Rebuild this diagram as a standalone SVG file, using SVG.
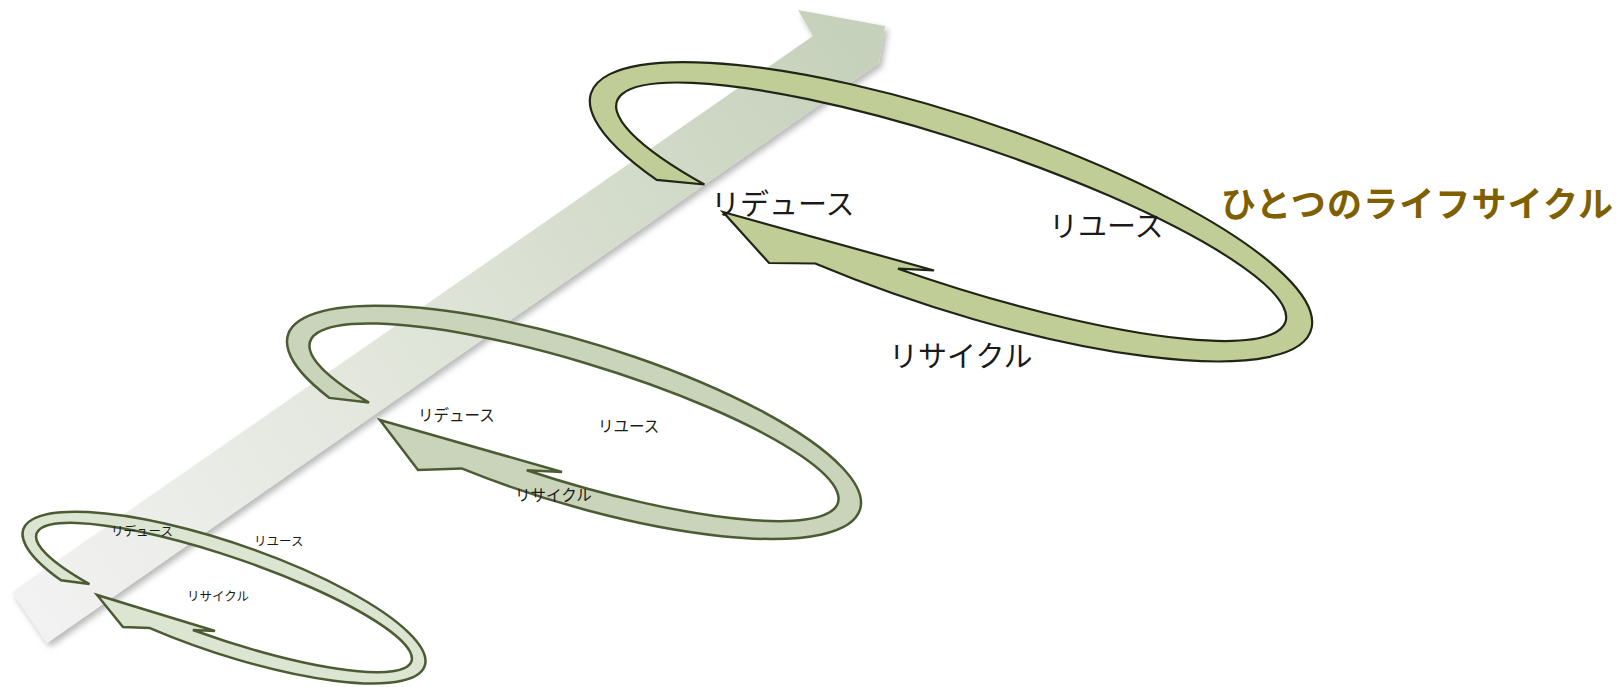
<svg xmlns="http://www.w3.org/2000/svg" width="1619" height="687" viewBox="0 0 1619 687">
  <defs>
    <linearGradient id="bandGrad" gradientUnits="userSpaceOnUse" x1="30" y1="617" x2="850" y2="40">
      <stop offset="0" stop-color="#f2f2f2"/>
      <stop offset="0.5" stop-color="#dfe4d8"/>
      <stop offset="1" stop-color="#c6d1bb"/>
    </linearGradient>
    <filter id="shadow" x="-10%" y="-10%" width="120%" height="120%">
      <feDropShadow dx="3" dy="4" stdDeviation="3" flood-color="#000" flood-opacity="0.28"/>
    </filter>
  </defs>
  <style>
    .ring { stroke-linejoin: miter; stroke-miterlimit: 4; }
    .big { fill: #c0cd97; stroke: #1f2615; stroke-width: 2.2; }
    .mid { fill: #c9d4ba; stroke: #4b5b33; stroke-width: 2.5; }
    .sml { fill: #dce4d2; stroke: #4b5b33; stroke-width: 2.5; }
    .lbl { font-family: "Noto Sans CJK JP", "Noto Sans", sans-serif; fill: #1a1a1a; dominant-baseline: central; }
    .l1 { font-size: 29px; }
    .l2 { font-size: 15.5px; }
    .l3 { font-size: 12.5px; }
    .title { font-family: "Noto Sans CJK JP", "Noto Sans", sans-serif; font-weight: 700; font-size: 35px; fill: #7f6000; dominant-baseline: central; }
  </style>

  <g id="connectors">
    <polygon id="progress-arrow" points="12,592 813,36 798,10 885,26 879,63 47,643" fill="url(#bandGrad)" filter="url(#shadow)"/>
  </g>

  <g id="cycle-small">
    <path class="ring sml" transform="translate(224,597.5) rotate(18.8)" d="M -60.3,52.8 A 212 55 0 1 0 -159.8,36.2 L -131.7,30.6 A 198 41 0 1 1 -19.0,40.8 L 2.3,34.6 L -121.0,38.5 L -86.1,60.5 Z"/>
    <text class="lbl l3" x="111" y="530">リデュース</text>
    <text class="lbl l3" x="254" y="540">リユース</text>
    <text class="lbl l3" x="187" y="595">リサイクル</text>
  </g>

  <g id="cycle-medium">
    <path class="ring mid" transform="translate(574,422.3) rotate(16.95)" d="M -94.1,76.9 A 299 81 0 1 0 -241.0,47.95 L -201.9,40.9 A 276 60 0 1 1 -31.2,59.6 L 3.0,51.0 L -186.3,54.4 L -135.3,91.1 Z"/>
    <text class="lbl l2" x="418" y="413.5">リデュース</text>
    <text class="lbl l2" x="598" y="424.5">リユース</text>
    <text class="lbl l2" x="515" y="493.5">リサイクル</text>
  </g>

  <g id="cycle-large">
    <path class="ring big" transform="translate(951,211.7) rotate(18.25)" d="M -112.7,91.7 A 379 96 0 1 0 -289.5,62.0 L -242.7,51.4 A 352 71 0 1 1 -32.5,70.7 L 2.3,61.1 L -216.4,71.7 L -156.7,105.7 Z"/>
    <text class="lbl l1" x="711" y="201.5">リデュース</text>
    <text class="lbl l1" x="1049" y="223.5">リユース</text>
    <text class="lbl l1" x="889" y="353.5">リサイクル</text>
  </g>

  <g id="title">
    <text class="title" x="1221" y="201.5" textLength="392" lengthAdjust="spacing">ひとつのライフサイクル</text>
  </g>
</svg>
